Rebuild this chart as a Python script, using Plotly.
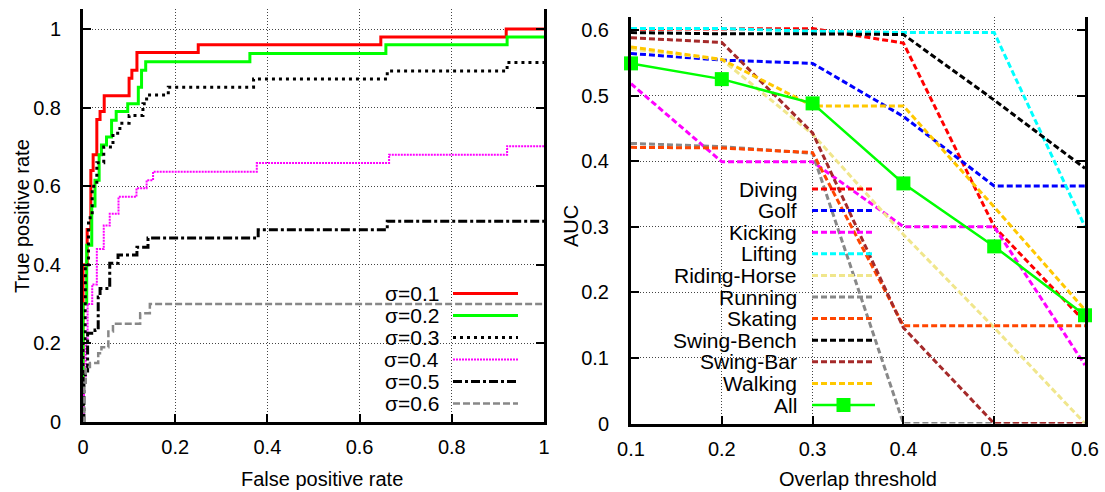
import plotly.graph_objects as go

W, H = 1105, 492
FONT = "Liberation Sans, Arial, sans-serif"
FS = 20
KEY_FS = 21

# ---- left panel: ROC staircases (breakpoints, drawn with hv steps) ----
roc_labels = ["σ=0.1", "σ=0.2", "σ=0.3", "σ=0.4", "σ=0.5", "σ=0.6"]

fpr_s1 = [0, 0, 0.009, 0.017, 0.022, 0.030, 0.037, 0.046, 0.100, 0.106, 0.117, 0.250, 0.646, 0.918, 1.0]
tpr_s1 = [0, 0.40, 0.49, 0.64, 0.68, 0.77, 0.79, 0.83, 0.875, 0.895, 0.94, 0.96, 0.98, 1.0, 1.0]

fpr_s2 = [0, 0, 0.008, 0.019, 0.026, 0.035, 0.040, 0.051, 0.062, 0.072, 0.097, 0.120, 0.127, 0.136, 0.362, 0.657, 0.920, 1.0]
tpr_s2 = [0, 0.30, 0.45, 0.55, 0.615, 0.68, 0.705, 0.725, 0.768, 0.79, 0.81, 0.852, 0.895, 0.917, 0.938, 0.96, 0.98, 0.98]

fpr_s3 = [0, 0, 0.005, 0.012, 0.020, 0.030, 0.045, 0.065, 0.080, 0.100, 0.130, 0.138, 0.185, 0.370, 0.660, 0.920, 1.0]
tpr_s3 = [0, 0.20, 0.40, 0.52, 0.60, 0.66, 0.70, 0.735, 0.76, 0.78, 0.81, 0.832, 0.852, 0.873, 0.893, 0.915, 0.915]

fpr_s4 = [0, 0.002, 0.006, 0.010, 0.020, 0.030, 0.045, 0.058, 0.077, 0.116, 0.138, 0.152, 0.377, 0.664, 0.920, 1.0]
tpr_s4 = [0, 0.10, 0.20, 0.30, 0.35, 0.44, 0.50, 0.53, 0.573, 0.595, 0.615, 0.637, 0.659, 0.68, 0.702, 0.702]

fpr_s5 = [0, 0.002, 0.010, 0.026, 0.033, 0.037, 0.058, 0.076, 0.117, 0.141, 0.380, 0.660, 1.0]
tpr_s5 = [0, 0.12, 0.226, 0.234, 0.318, 0.34, 0.404, 0.425, 0.445, 0.468, 0.489, 0.511, 0.511]

fpr_s6 = [0, 0.003, 0.006, 0.015, 0.033, 0.040, 0.055, 0.065, 0.124, 0.145, 1.0]
tpr_s6 = [0, 0.10, 0.14, 0.15, 0.175, 0.19, 0.23, 0.25, 0.277, 0.30, 0.30]

roc_fpr = [fpr_s1, fpr_s2, fpr_s3, fpr_s4, fpr_s5, fpr_s6]
roc_tpr = [tpr_s1, tpr_s2, tpr_s3, tpr_s4, tpr_s5, tpr_s6]
roc_style = [
    dict(color="#ff0000", width=3, dash="solid"),
    dict(color="#00ff00", width=3, dash="solid"),
    dict(color="#000000", width=3, dash="3px,4px"),
    dict(color="#ff00ff", width=2, dash="2px,1px"),
    dict(color="#000000", width=3, dash="9px,3px,3px,3px"),
    dict(color="#888888", width=2.5, dash="7px,3px"),
]

roc_ticks = [0, 0.2, 0.4, 0.6, 0.8, 1]
roc_ticktext = ["0", "0.2", "0.4", "0.6", "0.8", "1"]

# ---- right panel: AUC per class vs overlap threshold ----
thresholds = [0.1, 0.2, 0.3, 0.4, 0.5, 0.6]
class_names = ["Diving", "Golf", "Kicking", "Lifting", "Riding-Horse", "Running",
               "Skating", "Swing-Bench", "Swing-Bar", "Walking", "All"]
auc_diving = [0.601, 0.601, 0.602, 0.580, 0.300, 0.155]
auc_golf = [0.564, 0.554, 0.549, 0.468, 0.362, 0.362]
auc_kicking = [0.518, 0.399, 0.399, 0.300, 0.300, 0.089]
auc_lifting = [0.602, 0.602, 0.598, 0.596, 0.596, 0.300]
auc_riding = [0.571, 0.555, 0.441, 0.288, 0.146, 0.0]
auc_running = [0.427, 0.422, 0.412, 0.0, 0.0, 0.0]
auc_skating = [0.421, 0.420, 0.413, 0.149, 0.149, 0.149]
auc_swing_bench = [0.596, 0.594, 0.594, 0.593, 0.493, 0.389]
auc_swing_bar = [0.588, 0.581, 0.443, 0.146, 0.0, 0.0]
auc_walking = [0.574, 0.555, 0.484, 0.484, 0.330, 0.173]
auc_all = [0.549, 0.525, 0.488, 0.366, 0.270, 0.165]
auc_series = [auc_diving, auc_golf, auc_kicking, auc_lifting, auc_riding, auc_running,
              auc_skating, auc_swing_bench, auc_swing_bar, auc_walking, auc_all]
class_colors = ["#ff0000", "#0000ff", "#ff00ff", "#00ffff", "#f0e68c", "#888888",
                "#ff4500", "#000000", "#a52a2a", "#ffc800", "#00ff00"]

auc_xticks = [0.1, 0.2, 0.3, 0.4, 0.5, 0.6]
auc_xticktext = ["0.1", "0.2", "0.3", "0.4", "0.5", "0.6"]
auc_yticks = [0, 0.1, 0.2, 0.3, 0.4, 0.5, 0.6]
auc_yticktext = ["0", "0.1", "0.2", "0.3", "0.4", "0.5", "0.6"]


def px(x):
    return x / W


def py(y):
    return 1 - y / H


fig = go.Figure()

for fx, ty, name, st in zip(roc_fpr, roc_tpr, roc_labels, roc_style):
    fig.add_trace(go.Scatter(x=fx, y=ty, mode="lines", line_shape="hv", name=name,
                             line=st, xaxis="x", yaxis="y", showlegend=False))

DASH = "6px,3px"
for name, vals, col in zip(class_names, auc_series, class_colors):
    if name == "All":
        fig.add_trace(go.Scatter(x=thresholds, y=vals, mode="lines+markers", name=name,
                                 line=dict(color=col, width=2.5),
                                 marker=dict(symbol="square", size=14, color=col),
                                 xaxis="x2", yaxis="y2", showlegend=False, cliponaxis=False))
    else:
        fig.add_trace(go.Scatter(x=thresholds, y=vals, mode="lines", name=name,
                                 line=dict(color=col, width=3, dash=DASH),
                                 xaxis="x2", yaxis="y2", showlegend=False))

tickfont = dict(family=FONT, size=FS, color="black")
grid = dict(showgrid=True, gridcolor="#444444", gridwidth=1, griddash="1px,2px")
common_x = dict(showline=True, linewidth=3, linecolor="black", mirror=False,
                ticks="inside", ticklen=8, tickwidth=2, tickcolor="black", automargin=False,
                tickfont=tickfont, zeroline=False, ticklabelstandoff=5, **grid)
common_y = dict(showline=True, linewidth=3, linecolor="black", mirror="ticks",
                ticks="inside", ticklen=8, tickwidth=2, tickcolor="black", automargin=False,
                tickfont=tickfont, zeroline=False, ticklabelstandoff=15, **grid)
top_axis = dict(showline=True, linewidth=1, linecolor="black", side="top", automargin=False,
                ticks="inside", ticklen=8, tickwidth=2, tickcolor="black",
                showticklabels=False, showgrid=False, zeroline=False)

L_dom_x = [px(83), px(544)]
L_dom_y = [py(422), py(9.4)]
R_dom_x = [px(631), px(1085)]
R_dom_y = [py(423.5), py(16.8)]

fig.update_layout(
    width=W, height=H,
    margin=dict(l=0, r=0, t=0, b=0, autoexpand=False),
    paper_bgcolor="white", plot_bgcolor="white",
    font=dict(family=FONT, size=FS, color="black"),
    xaxis=dict(domain=L_dom_x, range=[0, 1], tickvals=roc_ticks, ticktext=roc_ticktext,
               anchor="y", **common_x),
    yaxis=dict(domain=L_dom_y, range=[0, 1.05], tickvals=roc_ticks, ticktext=roc_ticktext,
               anchor="x", **common_y),
    xaxis3=dict(overlaying="x", anchor="y", range=[0, 1], tickvals=roc_ticks, **top_axis),
    xaxis2=dict(domain=R_dom_x, range=[0.1, 0.6], tickvals=auc_xticks, ticktext=auc_xticktext,
                anchor="y2", **common_x),
    yaxis2=dict(domain=R_dom_y, range=[0, 0.62], tickvals=auc_yticks, ticktext=auc_yticktext,
                anchor="x2", **common_y),
    xaxis4=dict(overlaying="x2", anchor="y2", range=[0.1, 0.6], tickvals=auc_xticks, **top_axis),
)

shapes = []
annotations = []

# key areas keep the grid clear but let the curves through
shapes.append(dict(type="rect", xref="paper", yref="paper", layer="between",
                   x0=px(373), x1=px(532), y0=py(421), y1=py(281),
                   line=dict(width=0), fillcolor="white"))
shapes.append(dict(type="rect", xref="paper", yref="paper", layer="between",
                   x0=px(668), x1=px(888), y0=py(422), y1=py(176),
                   line=dict(width=0), fillcolor="white"))

# key of the ROC panel: label, then a line sample to its right
for i, (name, st) in enumerate(zip(roc_labels, roc_style)):
    yy = py(293.5 + 22 * i)
    annotations.append(dict(x=px(441), y=yy, xref="paper", yref="paper", text=name,
                            xanchor="right", yanchor="middle", showarrow=False,
                            font=dict(family=FONT, size=KEY_FS, color="black")))
    shapes.append(dict(type="line", xref="paper", yref="paper", layer="above",
                       x0=px(453), x1=px(518), y0=yy, y1=yy,
                       line=dict(color=st["color"], width=st["width"], dash=st["dash"])))

# key of the AUC panel
for i, (name, col) in enumerate(zip(class_names, class_colors)):
    yy = py(189 + 21.6 * i)
    annotations.append(dict(x=px(799), y=yy, xref="paper", yref="paper", text=name,
                            xanchor="right", yanchor="middle", showarrow=False,
                            font=dict(family=FONT, size=KEY_FS, color="black")))
    if name == "All":
        shapes.append(dict(type="line", xref="paper", yref="paper", layer="above",
                           x0=px(812), x1=px(875), y0=yy, y1=yy,
                           line=dict(color=col, width=2.5)))
        shapes.append(dict(type="rect", xref="paper", yref="paper", layer="above",
                           x0=px(843.5 - 7), x1=px(843.5 + 7), y0=yy - 7 / H, y1=yy + 7 / H,
                           line=dict(width=0), fillcolor=col))
    else:
        shapes.append(dict(type="line", xref="paper", yref="paper", layer="above",
                           x0=px(812), x1=px(875), y0=yy, y1=yy,
                           line=dict(color=col, width=3, dash=DASH)))

# axis titles
annotations += [
    dict(x=px(322), y=py(479), xref="paper", yref="paper", text="False positive rate",
         showarrow=False, xanchor="center", yanchor="middle",
         font=dict(family=FONT, size=FS, color="black")),
    dict(x=px(22), y=py(216), xref="paper", yref="paper", text="True positive rate",
         showarrow=False, xanchor="center", yanchor="middle", textangle=-90,
         font=dict(family=FONT, size=FS, color="black")),
    dict(x=px(858), y=py(479), xref="paper", yref="paper", text="Overlap threshold",
         showarrow=False, xanchor="center", yanchor="middle",
         font=dict(family=FONT, size=FS, color="black")),
    dict(x=px(571), y=py(226), xref="paper", yref="paper", text="AUC",
         showarrow=False, xanchor="center", yanchor="middle", textangle=-90,
         font=dict(family=FONT, size=FS, color="black")),
]

fig.update_layout(shapes=shapes, annotations=annotations)
fig.write_html("out.html")
